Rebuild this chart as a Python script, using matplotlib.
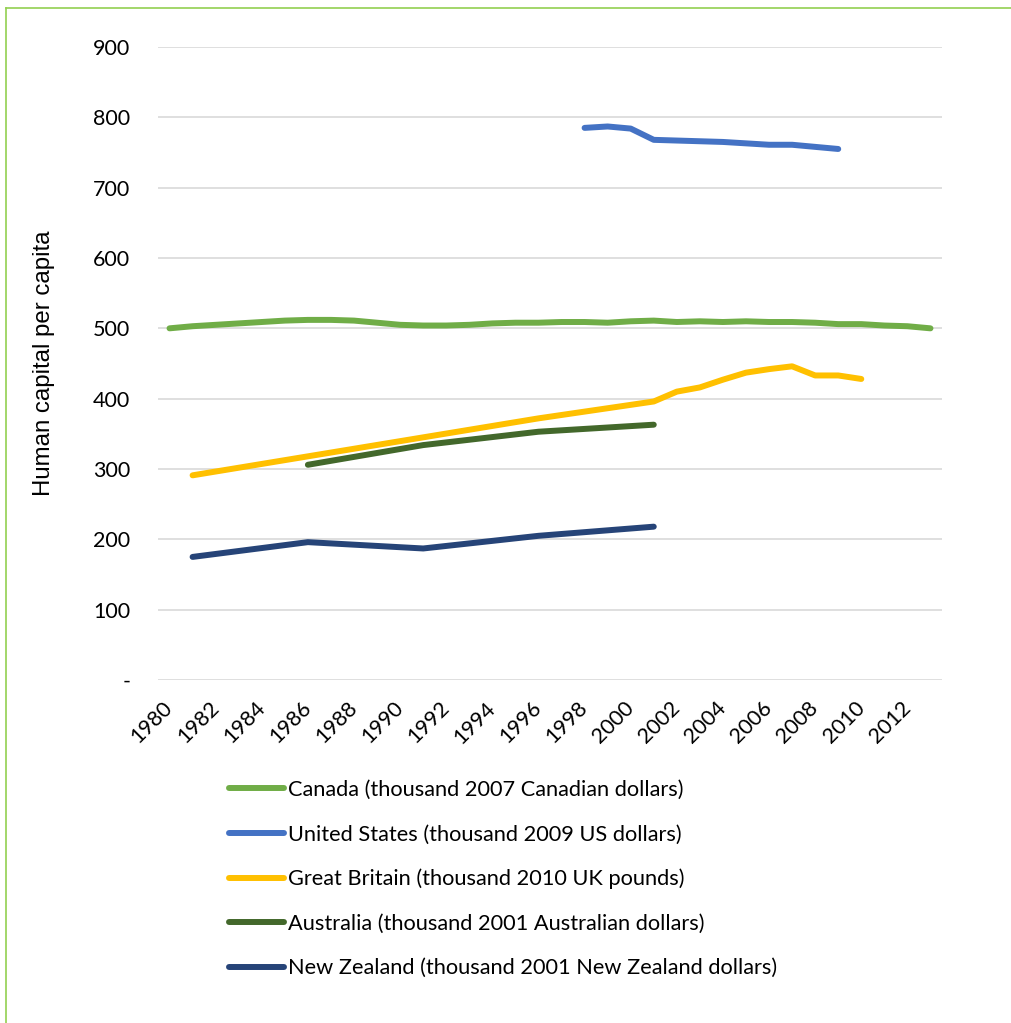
import matplotlib
matplotlib.use('Agg')
import matplotlib.pyplot as plt
from matplotlib.lines import Line2D

# Canada, yearly
canada_years = list(range(1980, 2014))
canada = [500, 503, 505, 507, 509, 511, 512, 512, 511, 508,
          505, 504, 504, 505, 507, 508, 508, 509, 509, 508,
          510, 511, 509, 510, 509, 510, 509, 509, 508, 506,
          506, 504, 503, 500]

# United States
us_years = list(range(1998, 2010))
us = [785, 787, 784, 768, 767, 766, 765, 763, 761, 761, 758, 755]

# Great Britain (census years then yearly)
gb_years = [1981, 1986, 1991, 1996, 2001, 2002, 2003, 2004, 2005, 2006, 2007, 2008, 2009, 2010]
gb = [291, 318, 345, 372, 396, 410, 416, 427, 437, 442, 446, 433, 433, 428]

# Australia
au_years = [1986, 1991, 1996, 2001]
au = [306, 334, 353, 363]

# New Zealand
nz_years = [1981, 1986, 1991, 1996, 2001]
nz = [175, 196, 187, 205, 218]

labels = ['Canada (thousand 2007 Canadian dollars)',
          'United States (thousand 2009 US dollars)',
          'Great Britain (thousand 2010 UK pounds)',
          'Australia (thousand 2001 Australian dollars)',
          'New Zealand (thousand 2001 New Zealand dollars)']
colors = ['#70AD47', '#4472C4', '#FFC000', '#43682B', '#264478']

yticks = [0, 100, 200, 300, 400, 500, 600, 700, 800, 900]
ytick_labels = ['-', '100', '200', '300', '400', '500', '600', '700', '800', '900']
xticks = list(range(1980, 2013, 2))

plt.rcParams['font.family'] = ['Lato', 'DejaVu Sans']

fig = plt.figure(figsize=(10.12, 10.23), dpi=100)
ax = fig.add_axes([158 / 1012, 1 - 680 / 1023, 784 / 1012, 633 / 1023])

series = [(canada_years, canada), (us_years, us), (gb_years, gb), (au_years, au), (nz_years, nz)]
for (xs, ys), lab, c in zip(series, labels, colors):
    ax.plot(xs, ys, color=c, lw=4.3, label=lab, solid_capstyle='round', solid_joinstyle='round')

ax.set_xlim(1979.5, 2013.5)
ax.set_ylim(0, 900)
ax.set_yticks(yticks)
ax.set_yticklabels(ytick_labels, fontsize=15.5)
ax.set_xticks(xticks)
ax.set_xticklabels([str(x) for x in xticks], fontsize=15.5, rotation=45,
                   ha='right', va='center', rotation_mode='anchor')
ax.tick_params(axis='both', length=0)
ax.tick_params(axis='y', pad=20)
ax.tick_params(axis='x', pad=18)
ax.grid(axis='y', color='#D9D9D9', lw=1.2)
ax.set_axisbelow(True)
for s in ax.spines.values():
    s.set_visible(False)

ax.set_ylabel('Human capital per capita', fontsize=17.3, family='Liberation Sans')
ax.yaxis.set_label_coords(-0.131, 0.5)

ax.legend(loc='upper left', bbox_to_anchor=(229 / 1012, 1 - 780 / 1023),
          bbox_transform=fig.transFigure, frameon=False, fontsize=15.7,
          handlelength=2.5, handletextpad=0.2, labelspacing=1.12, borderpad=0,
          borderaxespad=0)

# green frame (left and top edges visible)
fig.add_artist(Line2D([6.5 / 1012, 6.5 / 1012], [0, 1 - 7.5 / 1023], color='#92D050', lw=1.2))
fig.add_artist(Line2D([6.5 / 1012, 1], [1 - 7.5 / 1023, 1 - 7.5 / 1023], color='#92D050', lw=1.2))

fig.savefig('out.png', dpi=100)
